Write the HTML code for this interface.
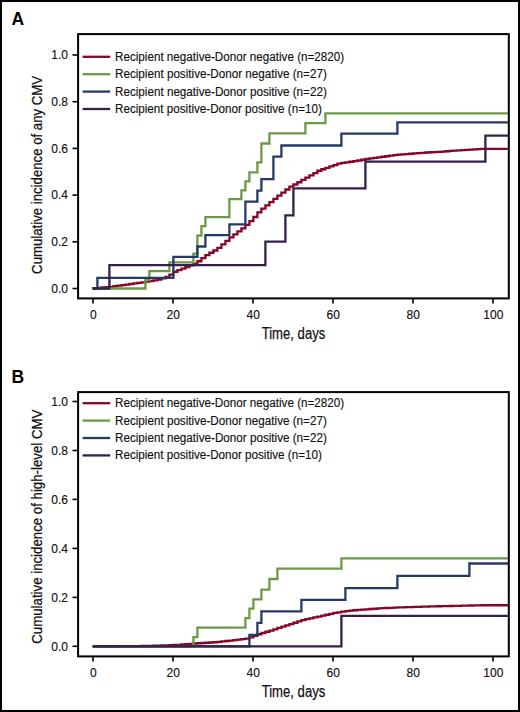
<!DOCTYPE html>
<html><head><meta charset="utf-8"><style>
html,body{margin:0;padding:0;background:#fff;}
svg{display:block;}
text{font-family:"Liberation Sans",sans-serif;fill:#111;stroke:#111;stroke-width:0.15px;}
.tk{font-size:12px;}
.lg{font-size:12px;}
.ti{font-size:15px;stroke-width:0.25px;}
.pl{font-size:17.5px;font-weight:bold;fill:#000;stroke:none;}
</style></head><body>
<svg width="520" height="712" viewBox="0 0 520 712">
<rect x="1" y="1" width="518" height="710" fill="#fff" stroke="#000" stroke-width="2"/>
<text x="11.4" y="24.7" class="pl">A</text>
<text x="11.4" y="382.5" class="pl">B</text>
<rect x="78.1" y="34.1" width="430.7" height="264.3" fill="none" stroke="#000" stroke-width="2"/>
<line x1="72.5" y1="288.5" x2="78" y2="288.5" stroke="#000" stroke-width="1.6"/>
<text x="68" y="292.8" text-anchor="end" class="tk">0.0</text>
<line x1="72.5" y1="241.8" x2="78" y2="241.8" stroke="#000" stroke-width="1.6"/>
<text x="68" y="246.1" text-anchor="end" class="tk">0.2</text>
<line x1="72.5" y1="195.1" x2="78" y2="195.1" stroke="#000" stroke-width="1.6"/>
<text x="68" y="199.4" text-anchor="end" class="tk">0.4</text>
<line x1="72.5" y1="148.4" x2="78" y2="148.4" stroke="#000" stroke-width="1.6"/>
<text x="68" y="152.7" text-anchor="end" class="tk">0.6</text>
<line x1="72.5" y1="101.7" x2="78" y2="101.7" stroke="#000" stroke-width="1.6"/>
<text x="68" y="106.0" text-anchor="end" class="tk">0.8</text>
<line x1="72.5" y1="55.0" x2="78" y2="55.0" stroke="#000" stroke-width="1.6"/>
<text x="68" y="59.3" text-anchor="end" class="tk">1.0</text>
<line x1="93" y1="299" x2="93" y2="303.5" stroke="#000" stroke-width="1.6"/>
<text x="93.3" y="318.6" text-anchor="middle" class="tk">0</text>
<line x1="173" y1="299" x2="173" y2="303.5" stroke="#000" stroke-width="1.6"/>
<text x="173.3" y="318.6" text-anchor="middle" class="tk">20</text>
<line x1="253" y1="299" x2="253" y2="303.5" stroke="#000" stroke-width="1.6"/>
<text x="253.3" y="318.6" text-anchor="middle" class="tk">40</text>
<line x1="333" y1="299" x2="333" y2="303.5" stroke="#000" stroke-width="1.6"/>
<text x="333.3" y="318.6" text-anchor="middle" class="tk">60</text>
<line x1="413" y1="299" x2="413" y2="303.5" stroke="#000" stroke-width="1.6"/>
<text x="413.3" y="318.6" text-anchor="middle" class="tk">80</text>
<line x1="493" y1="299" x2="493" y2="303.5" stroke="#000" stroke-width="1.6"/>
<text x="493.3" y="318.6" text-anchor="middle" class="tk">100</text>
<text x="261.7" y="338.9" class="ti" style="font-size:15.8px" textLength="63.6" lengthAdjust="spacingAndGlyphs">Time, days</text>
<text transform="translate(41.6 273.9) rotate(-90)" class="ti" textLength="198" lengthAdjust="spacingAndGlyphs">Cumulative incidence of any CMV</text>
<g fill="none" stroke-width="2.3" stroke-linejoin="miter" stroke-linecap="butt">
<polyline points="92.70,288.50 93.40,288.50 93.40,288.19 97.40,288.19 97.40,287.78 101.40,287.78 101.40,287.48 105.40,287.48 105.40,287.19 109.40,287.19 109.40,286.80 113.40,286.80 113.40,286.24 117.40,286.24 117.40,285.68 121.40,285.68 121.40,285.12 125.40,285.12 125.40,284.55 129.40,284.55 129.40,284.00 133.40,284.00 133.40,283.45 137.40,283.45 137.40,282.90 141.40,282.90 141.40,282.33 145.40,282.33 145.40,281.68 149.40,281.68 149.40,281.02 153.40,281.02 153.40,280.36 157.40,280.36 157.40,279.70 161.40,279.70 161.40,278.38 165.40,278.38 165.40,276.94 169.40,276.94 169.40,274.60 173.40,274.60 173.40,271.76 177.40,271.76 177.40,270.21 181.40,270.21 181.40,268.66 185.40,268.66 185.40,267.08 189.40,267.08 189.40,265.34 193.40,265.34 193.40,263.60 197.40,263.60 197.40,261.26 201.40,261.26 201.40,258.11 205.40,258.11 205.40,255.03 209.40,255.03 209.40,252.77 213.40,252.77 213.40,250.51 217.40,250.51 217.40,247.79 221.40,247.79 221.40,244.28 225.40,244.28 225.40,240.78 229.40,240.78 229.40,237.44 233.40,237.44 233.40,234.40 237.40,234.40 237.40,231.36 241.40,231.36 241.40,228.32 245.40,228.32 245.40,224.88 249.40,224.88 249.40,221.17 253.40,221.17 253.40,216.98 257.40,216.98 257.40,212.43 261.40,212.43 261.40,208.65 265.40,208.65 265.40,205.44 269.40,205.44 269.40,202.21 273.40,202.21 273.40,198.95 277.40,198.95 277.40,195.72 281.40,195.72 281.40,192.62 285.40,192.62 285.40,189.52 289.40,189.52 289.40,186.72 293.40,186.72 293.40,184.48 297.40,184.48 297.40,182.24 301.40,182.24 301.40,179.95 305.40,179.95 305.40,177.65 309.40,177.65 309.40,175.35 313.40,175.35 313.40,173.05 317.40,173.05 317.40,170.75 321.40,170.75 321.40,169.23 325.40,169.23 325.40,167.85 329.40,167.85 329.40,166.47 333.40,166.47 333.40,165.09 337.40,165.09 337.40,163.71 341.40,163.71 341.40,162.97 345.40,162.97 345.40,162.35 349.40,162.35 349.40,161.73 353.40,161.73 353.40,161.11 357.40,161.11 357.40,160.49 361.40,160.49 361.40,159.75 365.40,159.75 365.40,158.99 369.40,158.99 369.40,158.32 373.40,158.32 373.40,157.80 377.40,157.80 377.40,157.28 381.40,157.28 381.40,156.76 385.40,156.76 385.40,156.24 389.40,156.24 389.40,155.72 393.40,155.72 393.40,155.20 397.40,155.20 397.40,154.68 401.40,154.68 401.40,154.34 405.40,154.34 405.40,154.03 409.40,154.03 409.40,153.73 413.40,153.73 413.40,153.42 417.40,153.42 417.40,153.11 421.40,153.11 421.40,152.81 425.40,152.81 425.40,152.50 429.40,152.50 429.40,152.23 433.40,152.23 433.40,152.03 437.40,152.03 437.40,151.83 441.40,151.83 441.40,151.55 445.40,151.55 445.40,151.25 449.40,151.25 449.40,150.95 453.40,150.95 453.40,150.65 457.40,150.65 457.40,150.35 461.40,150.35 461.40,150.10 465.40,150.10 465.40,149.86 469.40,149.86 469.40,149.62 473.40,149.62 473.40,149.38 477.40,149.38 477.40,149.14 481.40,149.14 481.40,148.90 485.40,148.90 485.40,148.80 508.00,148.80" stroke="#860528"/>
<polyline points="92.7,288.5 145.4,288.5 145.4,280.2 149.4,280.2 149.4,271.2 169.4,271.2 169.4,262.4 193.4,262.4 193.4,253.6 197.4,253.6 197.4,235.6 201.4,235.6 201.4,226.1 205.4,226.1 205.4,217.1 229.4,217.1 229.4,199.1 241.4,199.1 241.4,190.3 245.4,190.3 245.4,181.3 249.4,181.3 249.4,172.3 257.4,172.3 257.4,162.3 261.4,162.3 261.4,143.5 269.4,143.5 269.4,133.4 305.4,133.4 305.4,123.2 325.4,123.2 325.4,113.4 508.0,113.4" stroke="#6b9a46"/>
<polyline points="92.7,288.5 97.4,288.5 97.4,277.9 173.4,277.9 173.4,256.8 197.4,256.8 197.4,246.5 205.4,246.5 205.4,235.2 229.4,235.2 229.4,224.3 245.4,224.3 245.4,201.6 257.4,201.6 257.4,190.7 261.4,190.7 261.4,179.1 273.4,179.1 273.4,156.6 281.4,156.6 281.4,145.5 341.4,145.5 341.4,133.7 397.4,133.7 397.4,122.4 508.0,122.4" stroke="#253a66"/>
<polyline points="92.7,288.5 109.4,288.5 109.4,265.2 265.4,265.2 265.4,241.6 285.4,241.6 285.4,215.4 293.4,215.4 293.4,188.3 365.4,188.3 365.4,161.7 485.4,161.7 485.4,135.7 508.0,135.7" stroke="#361f48"/>
</g>
<line x1="82.6" y1="56.8" x2="110.2" y2="56.8" stroke="#860528" stroke-width="2.3"/>
<text x="115" y="60.7" class="lg" textLength="229.2" lengthAdjust="spacingAndGlyphs">Recipient negative-Donor negative (n=2820)</text>
<line x1="82.6" y1="74.2" x2="110.2" y2="74.2" stroke="#6b9a46" stroke-width="2.3"/>
<text x="115" y="78.1" class="lg" textLength="211.8" lengthAdjust="spacingAndGlyphs">Recipient positive-Donor negative (n=27)</text>
<line x1="82.6" y1="91.6" x2="110.2" y2="91.6" stroke="#253a66" stroke-width="2.3"/>
<text x="115" y="95.5" class="lg" textLength="211.8" lengthAdjust="spacingAndGlyphs">Recipient negative-Donor positive (n=22)</text>
<line x1="82.6" y1="109.0" x2="110.2" y2="109.0" stroke="#361f48" stroke-width="2.3"/>
<text x="115" y="112.9" class="lg" textLength="206.8" lengthAdjust="spacingAndGlyphs">Recipient positive-Donor positive (n=10)</text>
<rect x="78.1" y="392.1" width="430.7" height="264.3" fill="none" stroke="#000" stroke-width="2"/>
<line x1="72.5" y1="646.3" x2="78" y2="646.3" stroke="#000" stroke-width="1.6"/>
<text x="68" y="650.6" text-anchor="end" class="tk">0.0</text>
<line x1="72.5" y1="597.4" x2="78" y2="597.4" stroke="#000" stroke-width="1.6"/>
<text x="68" y="601.7" text-anchor="end" class="tk">0.2</text>
<line x1="72.5" y1="548.4" x2="78" y2="548.4" stroke="#000" stroke-width="1.6"/>
<text x="68" y="552.7" text-anchor="end" class="tk">0.4</text>
<line x1="72.5" y1="499.4" x2="78" y2="499.4" stroke="#000" stroke-width="1.6"/>
<text x="68" y="503.7" text-anchor="end" class="tk">0.6</text>
<line x1="72.5" y1="450.5" x2="78" y2="450.5" stroke="#000" stroke-width="1.6"/>
<text x="68" y="454.8" text-anchor="end" class="tk">0.8</text>
<line x1="72.5" y1="401.5" x2="78" y2="401.5" stroke="#000" stroke-width="1.6"/>
<text x="68" y="405.8" text-anchor="end" class="tk">1.0</text>
<line x1="93" y1="657" x2="93" y2="661.5" stroke="#000" stroke-width="1.6"/>
<text x="93.3" y="676.6" text-anchor="middle" class="tk">0</text>
<line x1="173" y1="657" x2="173" y2="661.5" stroke="#000" stroke-width="1.6"/>
<text x="173.3" y="676.6" text-anchor="middle" class="tk">20</text>
<line x1="253" y1="657" x2="253" y2="661.5" stroke="#000" stroke-width="1.6"/>
<text x="253.3" y="676.6" text-anchor="middle" class="tk">40</text>
<line x1="333" y1="657" x2="333" y2="661.5" stroke="#000" stroke-width="1.6"/>
<text x="333.3" y="676.6" text-anchor="middle" class="tk">60</text>
<line x1="413" y1="657" x2="413" y2="661.5" stroke="#000" stroke-width="1.6"/>
<text x="413.3" y="676.6" text-anchor="middle" class="tk">80</text>
<line x1="493" y1="657" x2="493" y2="661.5" stroke="#000" stroke-width="1.6"/>
<text x="493.3" y="676.6" text-anchor="middle" class="tk">100</text>
<text x="261.7" y="696.9" class="ti" style="font-size:15.8px" textLength="63.6" lengthAdjust="spacingAndGlyphs">Time, days</text>
<text transform="translate(41.6 643.7) rotate(-90)" class="ti" textLength="234" lengthAdjust="spacingAndGlyphs">Cumulative incidence of high-level CMV</text>
<g fill="none" stroke-width="2.3" stroke-linejoin="miter" stroke-linecap="butt">
<polyline points="92.70,646.30 105.40,646.30 105.40,646.24 117.40,646.24 117.40,646.19 129.40,646.19 129.40,646.14 141.40,646.14 141.40,646.01 145.40,646.01 145.40,645.92 149.40,645.92 149.40,645.82 153.40,645.82 153.40,645.72 157.40,645.72 157.40,645.62 161.40,645.62 161.40,645.46 165.40,645.46 165.40,645.30 169.40,645.30 169.40,645.14 173.40,645.14 173.40,644.98 177.40,644.98 177.40,644.82 181.40,644.82 181.40,644.49 185.40,644.49 185.40,644.13 189.40,644.13 189.40,643.80 193.40,643.80 193.40,643.52 197.40,643.52 197.40,643.24 201.40,643.24 201.40,643.00 205.40,643.00 205.40,642.76 209.40,642.76 209.40,642.52 213.40,642.52 213.40,642.26 217.40,642.26 217.40,641.86 221.40,641.86 221.40,641.43 225.40,641.43 225.40,640.99 229.40,640.99 229.40,640.55 233.40,640.55 233.40,640.11 237.40,640.11 237.40,639.67 241.40,639.67 241.40,639.11 245.40,639.11 245.40,638.53 249.40,638.53 249.40,637.34 253.40,637.34 253.40,635.74 257.40,635.74 257.40,634.25 261.40,634.25 261.40,632.98 265.40,632.98 265.40,631.75 269.40,631.75 269.40,630.55 273.40,630.55 273.40,629.29 277.40,629.29 277.40,627.91 281.40,627.91 281.40,626.54 285.40,626.54 285.40,625.29 289.40,625.29 289.40,624.05 293.40,624.05 293.40,622.77 297.40,622.77 297.40,621.45 301.40,621.45 301.40,620.13 305.40,620.13 305.40,619.10 309.40,619.10 309.40,618.28 313.40,618.28 313.40,617.45 317.40,617.45 317.40,616.62 321.40,616.62 321.40,615.71 325.40,615.71 325.40,614.77 329.40,614.77 329.40,613.84 333.40,613.84 333.40,612.90 337.40,612.90 337.40,612.30 341.40,612.30 341.40,611.71 345.40,611.71 345.40,611.11 349.40,611.11 349.40,610.55 353.40,610.55 353.40,610.24 357.40,610.24 357.40,609.92 361.40,609.92 361.40,609.61 365.40,609.61 365.40,609.30 369.40,609.30 369.40,609.02 373.40,609.02 373.40,608.73 377.40,608.73 377.40,608.45 381.40,608.45 381.40,608.21 385.40,608.21 385.40,608.01 389.40,608.01 389.40,607.82 393.40,607.82 393.40,607.62 397.40,607.62 397.40,607.43 401.40,607.43 401.40,607.30 405.40,607.30 405.40,607.18 409.40,607.18 409.40,607.06 413.40,607.06 413.40,606.94 417.40,606.94 417.40,606.82 421.40,606.82 421.40,606.70 425.40,606.70 425.40,606.58 429.40,606.58 429.40,606.47 433.40,606.47 433.40,606.37 437.40,606.37 437.40,606.27 441.40,606.27 441.40,606.18 445.40,606.18 445.40,606.08 449.40,606.08 449.40,605.99 453.40,605.99 453.40,605.89 457.40,605.89 457.40,605.80 461.40,605.80 461.40,605.70 465.40,605.70 465.40,605.61 469.40,605.61 469.40,605.52 473.40,605.52 473.40,605.42 477.40,605.42 477.40,605.33 481.40,605.33 481.40,605.24 508.00,605.24" stroke="#860528"/>
<polyline points="92.7,646.3 193.4,646.3 193.4,637.1 197.4,637.1 197.4,627.6 245.4,627.6 245.4,618.2 249.4,618.2 249.4,608.7 253.4,608.7 253.4,599.4 261.4,599.4 261.4,589.7 269.4,589.7 269.4,579.0 277.4,579.0 277.4,568.7 341.4,568.7 341.4,558.3 508.0,558.3" stroke="#6b9a46"/>
<polyline points="92.7,646.3 249.4,646.3 249.4,634.8 257.4,634.8 257.4,622.8 261.4,622.8 261.4,611.4 301.4,611.4 301.4,599.8 345.4,599.8 345.4,588.2 397.4,588.2 397.4,575.8 469.4,575.8 469.4,563.5 508.0,563.5" stroke="#253a66"/>
<polyline points="92.7,646.3 341.4,646.3 341.4,615.8 508.0,615.8" stroke="#361f48"/>
</g>
<line x1="82.6" y1="403.2" x2="110.2" y2="403.2" stroke="#860528" stroke-width="2.3"/>
<text x="115" y="407.1" class="lg" textLength="229.2" lengthAdjust="spacingAndGlyphs">Recipient negative-Donor negative (n=2820)</text>
<line x1="82.6" y1="420.6" x2="110.2" y2="420.6" stroke="#6b9a46" stroke-width="2.3"/>
<text x="115" y="424.5" class="lg" textLength="211.8" lengthAdjust="spacingAndGlyphs">Recipient positive-Donor negative (n=27)</text>
<line x1="82.6" y1="438.0" x2="110.2" y2="438.0" stroke="#253a66" stroke-width="2.3"/>
<text x="115" y="441.9" class="lg" textLength="211.8" lengthAdjust="spacingAndGlyphs">Recipient negative-Donor positive (n=22)</text>
<line x1="82.6" y1="455.4" x2="110.2" y2="455.4" stroke="#361f48" stroke-width="2.3"/>
<text x="115" y="459.3" class="lg" textLength="206.8" lengthAdjust="spacingAndGlyphs">Recipient positive-Donor positive (n=10)</text>
</svg>
</body></html>
